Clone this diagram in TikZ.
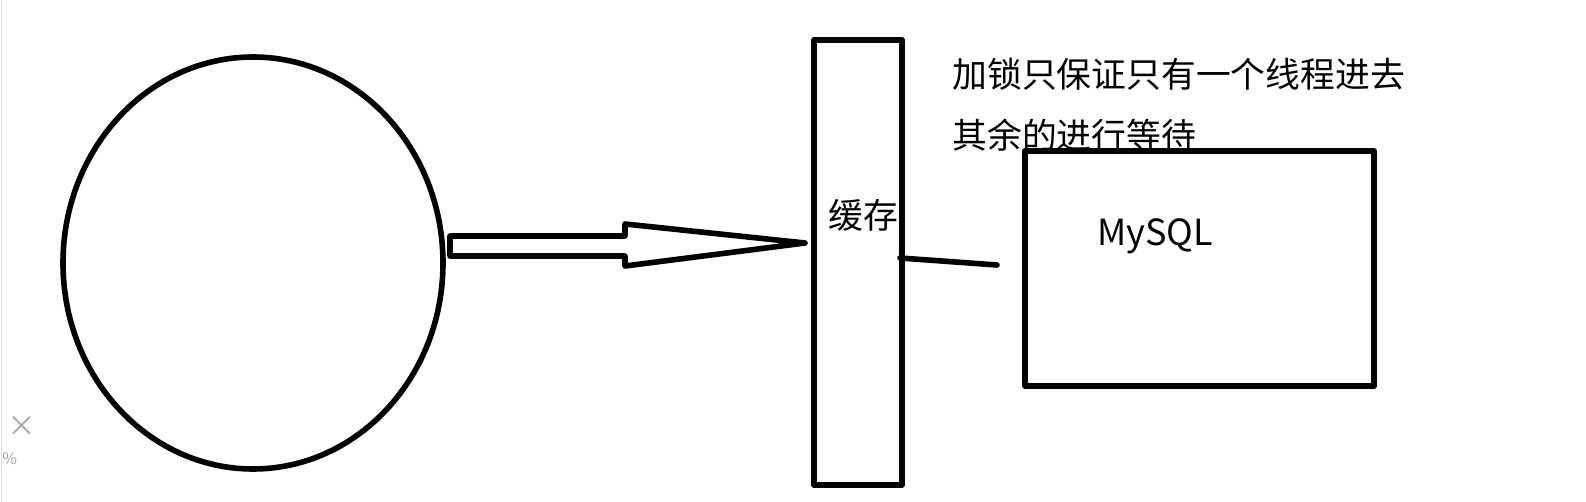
\documentclass[tikz,border=0pt]{standalone}
\usepackage{fontspec}
\setmainfont{Noto Sans CJK SC}
\usetikzlibrary{calc,shapes.geometric}

\begin{document}
\begin{tikzpicture}[x=0.5pt,y=-0.5pt,
  pen/.style={line width=2.8pt,line join=round,line cap=round},
  label/.style={inner sep=0pt,font=\fontsize{17.4}{20}\selectfont},
  ui/.style={inner sep=0pt,text=black!35}]
\useasboundingbox (0,0) rectangle (1586,502);
\draw[blue!15,line width=0.8pt] (1.5,0) -- (1.5,502);
% client
\node[pen,draw,ellipse,minimum width=190pt,minimum height=206pt] (users) at (253,263) {};
% cache
\draw[pen] (814,40) rectangle (902,485);
\node[label] (cache) at (863,215) {缓存};
\coordinate (cacheR) at (900,258);
% database
\draw[pen] (1025,151) rectangle (1374,386);
\node[label,font=\fontsize{18}{20}\selectfont] (db) at (1155,236) {MySQL};
\coordinate (dbL) at (997,265);
\node[label,anchor=west] (lock) at (952,74) {加锁只保证只有一个线程进去};
\node[label,anchor=west] (wait) at (952,135) {其余的进行等待};
% big arrow
\coordinate (tail) at (450,246);
\coordinate (tip) at (805,243);
\draw[pen] ($(tail)+(0,-10)$) -- (625,236) -- (625,224) -- (tip)
  -- (625,266) -- (625,256) -- ($(tail)+(0,10)$) -- cycle;
\draw[pen] (cacheR) -- (dbL);
% leftovers at the corner
\node[ui,font=\Large] (close) at (22,426) {×};
\node[ui,font=\footnotesize,anchor=west] (pct) at (2,459) {\%};
\end{tikzpicture}
\end{document}
